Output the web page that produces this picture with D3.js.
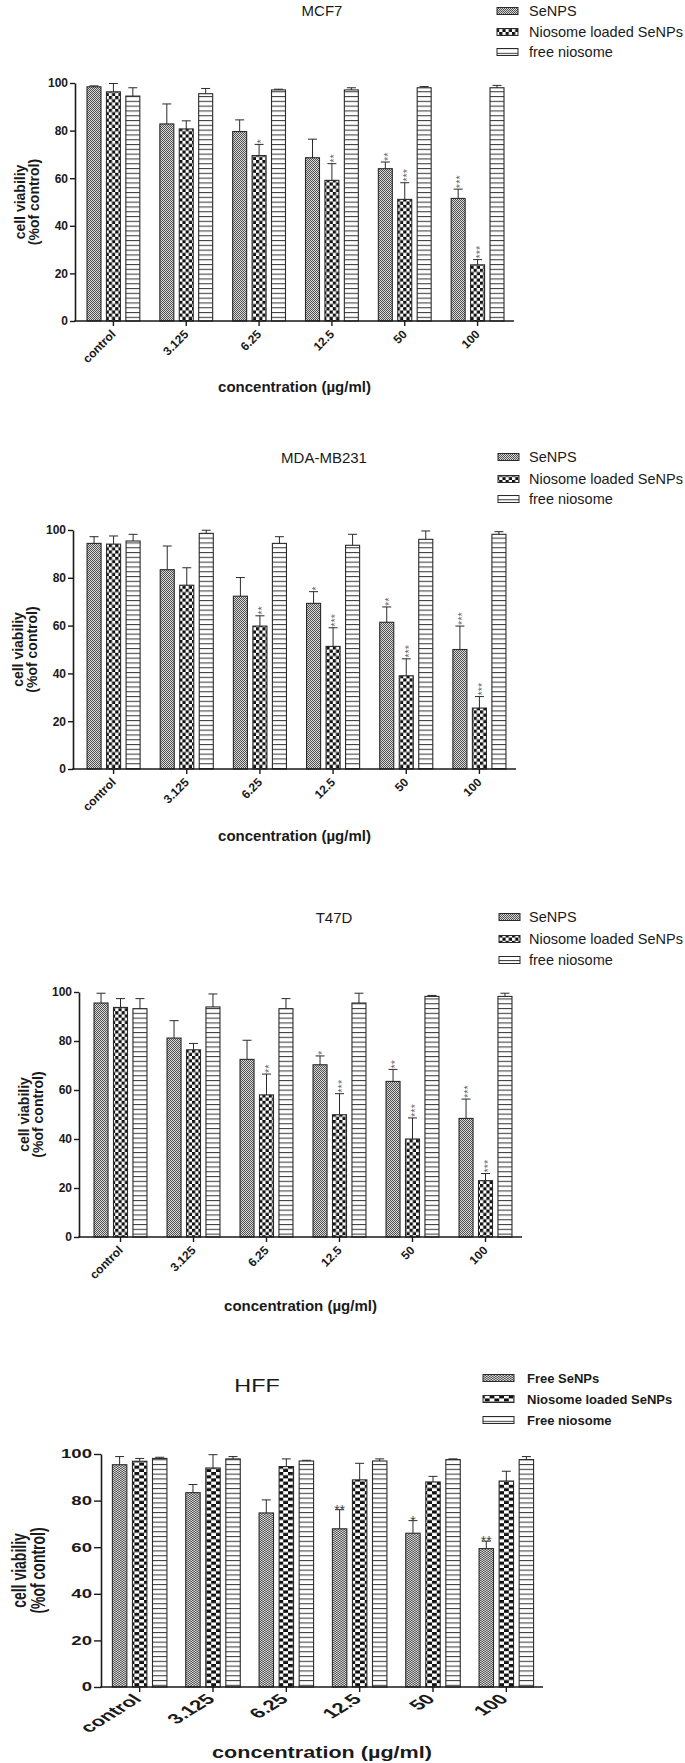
<!DOCTYPE html>
<html><head><meta charset="utf-8">
<script src="https://cdn.jsdelivr.net/npm/d3@7"></script>
<style>
html,body{margin:0;padding:0;background:#fff;}
svg{display:block;font-family:"Liberation Sans",Arial,Helvetica,sans-serif;}
</style></head><body>
<svg id="chart" width="685" height="1763"></svg>
<script>
// ---------------- DATA ----------------
const categories = ["control", "3.125", "6.25", "12.5", "50", "100"];
const seriesNames = ["SeNPS", "Niosome loaded SeNPs", "free niosome"];
const seriesNamesHFF = ["Free SeNPs", "Niosome loaded SeNPs", "Free niosome"];
const yTicks = [0, 20, 40, 60, 80, 100];
const panelTitles = ["MCF7", "MDA-MB231", "T47D", "HFF"];
const xTitle = "concentration (\u00b5g/ml)";
const yTitle1 = "cell viabiliy";
const yTitle2 = "(%of control)";

// MCF7
const mcf7SeNPs      = [98.4, 82.8, 79.6, 68.6, 64.0, 51.5];
const mcf7SeNPsErr   = [0.4, 8.4, 4.9, 7.8, 2.8, 3.9];
const mcf7Niosome    = [96.3, 80.7, 69.5, 59.1, 51.1, 23.6];
const mcf7NiosomeErr = [3.5, 3.4, 4.7, 7.0, 7.0, 2.2];
const mcf7Free       = [94.5, 95.5, 97.1, 97.1, 98.0, 98.0];
const mcf7FreeErr    = [3.5, 2.2, 0.3, 0.9, 0.5, 1.0];
const mcf7SeNPsSig   = ["", "", "", "", "**", "***"];
const mcf7NiosomeSig = ["", "", "*", "**", "***", "***"];

// MDA-MB231
const mdaSeNPs      = [94.4, 83.4, 72.3, 69.3, 61.4, 50.0];
const mdaSeNPsErr   = [2.8, 9.9, 7.8, 4.9, 6.4, 9.8];
const mdaNiosome    = [94.1, 76.9, 59.8, 51.3, 39.0, 25.5];
const mdaNiosomeErr = [3.4, 7.3, 4.3, 7.8, 7.1, 4.8];
const mdaFree       = [95.4, 98.6, 94.4, 93.6, 96.1, 98.2];
const mdaFreeErr    = [2.8, 1.3, 2.8, 4.6, 3.5, 1.1];
const mdaSeNPsSig   = ["", "", "", "*", "**", "***"];
const mdaNiosomeSig = ["", "", "**", "***", "***", "***"];

// T47D
const t47dSeNPs      = [95.5, 81.2, 72.5, 70.3, 63.5, 48.4];
const t47dSeNPsErr   = [4.0, 7.1, 7.8, 3.6, 4.9, 7.9];
const t47dNiosome    = [93.7, 76.4, 58.0, 49.9, 40.0, 23.0];
const t47dNiosomeErr = [3.6, 2.6, 8.5, 8.6, 8.6, 2.9];
const t47dFree       = [93.2, 93.9, 93.2, 95.5, 98.2, 98.2];
const t47dFreeErr    = [4.1, 5.3, 4.1, 4.0, 0.4, 1.3];
const t47dSeNPsSig   = ["", "", "", "*", "**", "***"];
const t47dNiosomeSig = ["", "", "**", "***", "***", "***"];

// HFF
const hffSeNPs      = [95.4, 83.4, 74.7, 67.9, 66.0, 59.4];
const hffSeNPsErr   = [3.5, 3.5, 5.6, 8.2, 5.4, 3.2];
const hffNiosome    = [96.9, 94.0, 94.6, 88.9, 88.0, 88.4];
const hffNiosomeErr = [1.2, 5.7, 3.3, 7.1, 2.4, 4.2];
const hffFree       = [98.1, 97.9, 97.0, 97.0, 97.6, 97.6];
const hffFreeErr    = [0.5, 1.0, 0.3, 0.9, 0.3, 1.3];
const hffSeNPsSig   = ["", "", "", "**", "*", "**"];
const noSig         = ["", "", "", "", "", ""];

// ---------------- LAYOUT ----------------
const layouts = [
  {titleX:322, titleY:10, legX:497, legW:21, legTextX:529, legY:[11,32,52], axisX:75, x0:77, x1:514, y100:83, y0:321, xTitleY:392, yTitleX:[25,39], pat:""},
  {titleX:324, titleY:457, legX:498, legW:21, legTextX:529, legY:[457,479,499], axisX:73, x0:77, x1:516, y100:530, y0:769, xTitleY:841, yTitleX:[23,37], pat:""},
  {titleX:334, titleY:917, legX:499, legW:21, legTextX:529, legY:[917,939,960], axisX:79, x0:84, x1:522, y100:992, y0:1237, xTitleY:1311, yTitleX:[29,43], pat:""},
  {titleX:257, titleY:1386, legX:483, legW:31, legTextX:527, legY:[1378,1399,1420], axisX:101, x0:103, x1:543, y100:1454, y0:1687, xTitleY:1758, yTitleX:[26,45], pat:"4"}
];

const panels = [
  {title: panelTitles[0], names: seriesNames, vals:[mcf7SeNPs, mcf7Niosome, mcf7Free], errs:[mcf7SeNPsErr, mcf7NiosomeErr, mcf7FreeErr], sig:[mcf7SeNPsSig, mcf7NiosomeSig, noSig]},
  {title: panelTitles[1], names: seriesNames, vals:[mdaSeNPs, mdaNiosome, mdaFree], errs:[mdaSeNPsErr, mdaNiosomeErr, mdaFreeErr], sig:[mdaSeNPsSig, mdaNiosomeSig, noSig]},
  {title: panelTitles[2], names: seriesNames, vals:[t47dSeNPs, t47dNiosome, t47dFree], errs:[t47dSeNPsErr, t47dNiosomeErr, t47dFreeErr], sig:[t47dSeNPsSig, t47dNiosomeSig, noSig]},
  {title: panelTitles[3], names: seriesNamesHFF, vals:[hffSeNPs, hffNiosome, hffFree], errs:[hffSeNPsErr, hffNiosomeErr, hffFreeErr], sig:[hffSeNPsSig, noSig, noSig]}
];

const svg = d3.select("#chart");
const defs = svg.append("defs");
const INK = "#1a1a1a";

function makePatterns(suffix, sx) {
  const tf = `scale(${sx},1)`;
  const p1 = defs.append("pattern").attr("id", "se" + suffix).attr("patternUnits", "userSpaceOnUse")
    .attr("width", 2).attr("height", 2).attr("patternTransform", tf);
  p1.append("rect").attr("width", 2).attr("height", 2).attr("fill", "#dadada");
  p1.append("rect").attr("width", 1).attr("height", 1).attr("fill", "#505050");
  p1.append("rect").attr("x", 1).attr("y", 1).attr("width", 1).attr("height", 1).attr("fill", "#505050");

  const p2 = defs.append("pattern").attr("id", "nio" + suffix).attr("patternUnits", "userSpaceOnUse")
    .attr("width", 6.4).attr("height", 6.4).attr("patternTransform", tf);
  p2.append("rect").attr("width", 6.4).attr("height", 6.4).attr("fill", "#fff");
  p2.append("rect").attr("width", 3.2).attr("height", 3.2).attr("fill", "#111");
  p2.append("rect").attr("x", 3.2).attr("y", 3.2).attr("width", 3.2).attr("height", 3.2).attr("fill", "#111");

  const p3 = defs.append("pattern").attr("id", "free" + suffix).attr("patternUnits", "userSpaceOnUse")
    .attr("width", 4).attr("height", 4.8);
  p3.append("rect").attr("width", 4).attr("height", 4.8).attr("fill", "#fff");
  p3.append("rect").attr("y", 0).attr("width", 4).attr("height", 1.1).attr("fill", "#444");
}
makePatterns("", 1);
makePatterns("4", 1.5);
const patIds = ["se", "nio", "free"];

function sText(g, x, y, str, sx) {
  return g.append("text")
    .attr("transform", `translate(${x},${y}) scale(${sx},1)`)
    .text(str);
}

panels.forEach((p, pi) => {
  const L = layouts[pi];
  const hff = pi === 3;
  const g = svg.append("g");

  const x = d3.scaleBand().domain(categories).range([L.x0, L.x1]).paddingInner(0).paddingOuter(0);
  const inner = hff ? 0.82 : 0.8;
  const xs = d3.scaleBand().domain([0, 1, 2])
    .range([x.bandwidth() * (1 - inner) / 2, x.bandwidth() * (1 + inner) / 2])
    .paddingInner(0.28).paddingOuter(0.14);
  const y = d3.scaleLinear().domain([0, 100]).range([L.y0, L.y100]);

  // bars
  p.vals.forEach((vals, si) => {
    const sg = g.append("g");
    sg.selectAll("rect").data(vals).join("rect")
      .attr("x", (d, i) => x(categories[i]) + xs(si))
      .attr("y", d => y(d))
      .attr("width", xs.bandwidth())
      .attr("height", d => y(0) - y(d))
      .attr("fill", `url(#${patIds[si]}${L.pat})`)
      .attr("stroke", "#2a2a2a").attr("stroke-width", 1.1);
    const cw = 9;
    vals.forEach((d, i) => {
      const cx = x(categories[i]) + xs(si) + xs.bandwidth() / 2;
      const top = y(d + p.errs[si][i]);
      sg.append("line").attr("x1", cx).attr("x2", cx).attr("y1", y(d)).attr("y2", top)
        .attr("stroke", "#2a2a2a").attr("stroke-width", 1);
      sg.append("line").attr("x1", cx - cw / 2).attr("x2", cx + cw / 2).attr("y1", top).attr("y2", top)
        .attr("stroke", "#2a2a2a").attr("stroke-width", 1);
      const s = p.sig[si][i];
      if (s) {
        if (hff) {
          g.append("text").attr("x", cx).attr("y", top + 5).attr("text-anchor", "middle")
            .attr("font-size", 14).attr("fill", "#444").text(s);
        } else {
          g.append("text").attr("transform", `translate(${cx},${top - 1}) rotate(-90)`)
            .attr("dy", "0.575em").attr("text-anchor", "start")
            .attr("font-size", 11).attr("fill", "#666").text(s);
        }
      }
    });
  });

  // y axis
  const tickLen = hff ? 7 : 5;
  const ya = g.append("g").attr("transform", `translate(${L.axisX},0)`)
    .call(d3.axisLeft(y).tickValues(yTicks).tickSize(tickLen).tickSizeOuter(0).tickPadding(2));
  ya.select(".domain").attr("stroke", INK).attr("stroke-width", 1.6);
  ya.selectAll(".tick line").attr("stroke", INK).attr("stroke-width", 1.4);
  ya.selectAll(".tick text").attr("fill", INK).attr("font-size", 12).attr("font-weight", "bold")
    .attr("font-family", '"Liberation Sans",Arial,sans-serif');
  if (hff) {
    ya.selectAll(".tick text").attr("x", null)
      .attr("transform", `translate(${-(tickLen + 2)},0) scale(1.55,1)`).attr("text-anchor", "end");
  }

  // x axis
  const xa = g.append("g").attr("transform", `translate(0,${L.y0})`)
    .call(d3.axisBottom(x).tickSize(5).tickSizeOuter(0));
  xa.select(".domain").remove();
  xa.selectAll(".tick line").attr("stroke", INK).attr("stroke-width", 1.4);
  xa.selectAll(".tick text").attr("x", null).attr("y", null).attr("dy", null)
    .attr("text-anchor", "end").attr("fill", INK).attr("font-weight", "bold")
    .attr("font-family", '"Liberation Sans",Arial,sans-serif')
    .attr("font-size", hff ? 14 : 12)
    .attr("transform", hff ? "translate(3,13) scale(1.6,1) rotate(-45)" : "translate(3,14) rotate(-45)");
  g.append("line").attr("x1", L.axisX - 0.8).attr("x2", x.range()[1])
    .attr("y1", L.y0).attr("y2", L.y0).attr("stroke", INK).attr("stroke-width", 1.6);

  // axis titles
  sText(g, (L.axisX + x.range()[1]) / 2, L.xTitleY, xTitle, hff ? 1.35 : 1)
    .attr("text-anchor", "middle").attr("font-weight", "bold").attr("fill", INK)
    .attr("font-size", hff ? 16 : 15);
  const cy = (L.y0 + L.y100) / 2;
  [yTitle1, yTitle2].forEach((t, k) => {
    g.append("text")
      .attr("transform", `translate(${L.yTitleX[k]},${cy}) scale(${hff ? 1.4 : 1},1) rotate(-90)`)
      .attr("text-anchor", "middle").attr("font-weight", "bold").attr("fill", INK)
      .attr("font-size", 14).text(t);
  });

  // title
  sText(g, L.titleX, L.titleY + 5.5, p.title, hff ? 1.3 : 1)
    .attr("text-anchor", "middle").attr("fill", INK).attr("font-size", hff ? 18 : 15);

  // legend
  p.names.forEach((nm, si) => {
    const ly = L.legY[si];
    g.append("rect").attr("x", L.legX).attr("y", ly - 3.5).attr("width", L.legW).attr("height", 7)
      .attr("fill", `url(#${patIds[si]}${L.pat})`).attr("stroke", "#2a2a2a").attr("stroke-width", 1);
    g.append("text").attr("x", L.legTextX).attr("y", ly).attr("dy", "0.36em")
      .attr("fill", INK).attr("font-size", hff ? 13 : 14.5).attr("font-weight", hff ? "bold" : "normal")
      .text(nm);
  });
});
</script>
</body></html>
